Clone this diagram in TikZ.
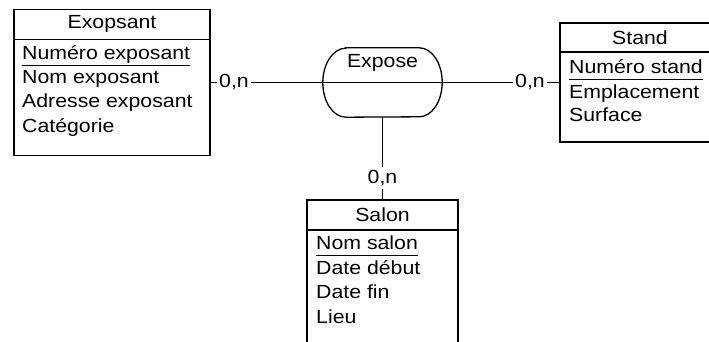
\documentclass[tikz,border=0pt]{standalone}
\usepackage{fontspec}
\setmainfont{Liberation Sans}[FakeStretch=1.12]
\usepackage{tikz}

\begin{document}
\begin{tikzpicture}[x=1pt,y=-1pt,
		every node/.style={font=\fontsize{19}{23}\selectfont, inner sep=0pt},
		entite/.style={draw, line width=1.5pt, minimum width=#1},
		assoc/.style={minimum width=119pt, minimum height=69pt},
		card/.style={inner sep=2.5pt}]
		\useasboundingbox (0,0) rectangle (709,342);
		% entites
		\node[entite=196pt, minimum height=146pt] (exopsant) at (112,82.5) {};
		\node[entite=160pt, minimum height=119pt] (stand) at (640,82.5) {};
		\node[entite=151pt, minimum height=170pt, anchor=north] (salon) at (382.5,199) {};
		\draw[line width=1.5pt] ([yshift=-31pt]exopsant.north west) -- ([yshift=-31pt]exopsant.north east);
		\draw[line width=1.5pt] ([yshift=-30pt]stand.north west) -- ([yshift=-30pt]stand.north east);
		\draw[line width=1.5pt] ([yshift=-31pt]salon.north west) -- ([yshift=-31pt]salon.north east);
		\node at (112,24) {Exopsant};
		\node at (640,38) {Stand};
		\node at (382.5,215) {Salon};
		% attributs
		\node[anchor=base west] (numexp) at (22,59.5) {Numéro exposant};
		\node[anchor=base west] at (22,84) {Nom exposant};
		\node[anchor=base west] at (22,108) {Adresse exposant};
		\node[anchor=base west] at (22,132) {Catégorie};
		\node[anchor=base west] (numstand) at (569,73.5) {Numéro stand};
		\node[anchor=base west] at (569,98.5) {Emplacement};
		\node[anchor=base west] at (569,121.5) {Surface};
		\node[anchor=base west] (nomsalon) at (316,249.5) {Nom salon};
		\node[anchor=base west] at (316,274.5) {Date début};
		\node[anchor=base west] at (316,298.5) {Date fin};
		\node[anchor=base west] at (316,323.5) {Lieu};
		\foreach \id in {numexp,numstand,nomsalon}
			\draw[line width=1.4pt] ([yshift=-6pt]\id.base west) -- ([yshift=-6pt]\id.base east);
		% association
		\node[assoc] (expose) at (382.5,82.5) {};
		\draw[line width=1.3pt] ([xshift=23pt]expose.north west) -- ([xshift=-23pt]expose.north east)
			arc[start angle=90, end angle=-90, x radius=23pt, y radius=34.5pt]
			-- ([xshift=23pt]expose.south west)
			arc[start angle=270, end angle=90, x radius=23pt, y radius=34.5pt] -- cycle;
		\draw[line width=1.3pt] (expose.west) -- (expose.east);
		\node at (382.5,63) {Expose};
		% cardinalites
		\node[card] (c1) at (234,82.5) {0,n};
		\node[card] (c2) at (530,82.5) {0,n};
		\node[card] (c3) at (382.5,178) {0,n};
		\draw[line width=1.2pt] (exopsant) -- (c1) -- (expose) -- (c2) -- (stand);
		\draw[line width=1.2pt] (expose) -- (c3) -- (salon);
\end{tikzpicture}
\end{document}
